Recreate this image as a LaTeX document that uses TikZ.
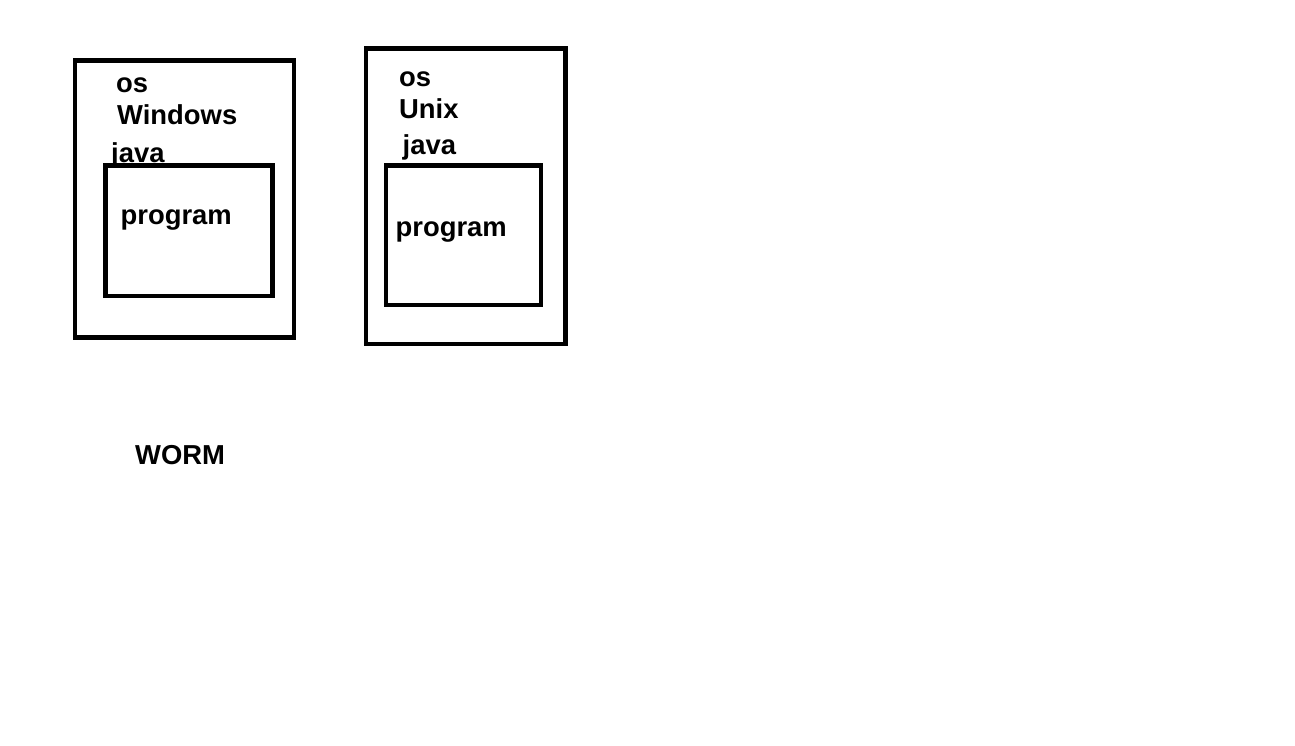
\documentclass[tikz,border=0pt]{standalone}
\usepackage{fontspec}
\setmainfont{Liberation Sans}
\tikzset{
  box/.style={draw, line width=4.8pt},
  lbl/.style={anchor=base west, inner sep=0pt, font=\fontsize{27.4}{31}\selectfont\bfseries},
}

\begin{document}
\begin{tikzpicture}[x=1pt, y=-1pt]
\useasboundingbox (0,0) rectangle (1295,746);
% Windows machine
\draw[box] (75,60.5) rectangle (294,337.5);
\draw[box] (105.5,165.5) rectangle (272.5,296);
\node[lbl] (winos) at (116,92.7) {os};
\node[lbl] (winname) at (117,125) {Windows};
\node[lbl] (winjava) at (111,162.3) {java};
\node[lbl] (winprog) at (120.5,225) {program};
% Unix machine
\draw[box] (366,48.5) rectangle (565.5,344);
\draw[box] (386,165.5) rectangle (541,305);
\node[lbl] (unixos) at (399,86.7) {os};
\node[lbl] (unixname) at (399,118.3) {Unix};
\node[lbl] (unixjava) at (402.5,154.3) {java};
\node[lbl] (unixprog) at (395.5,236.7) {program};
\node[lbl] (worm) at (135,464.5) {WORM};
\end{tikzpicture}
\end{document}
